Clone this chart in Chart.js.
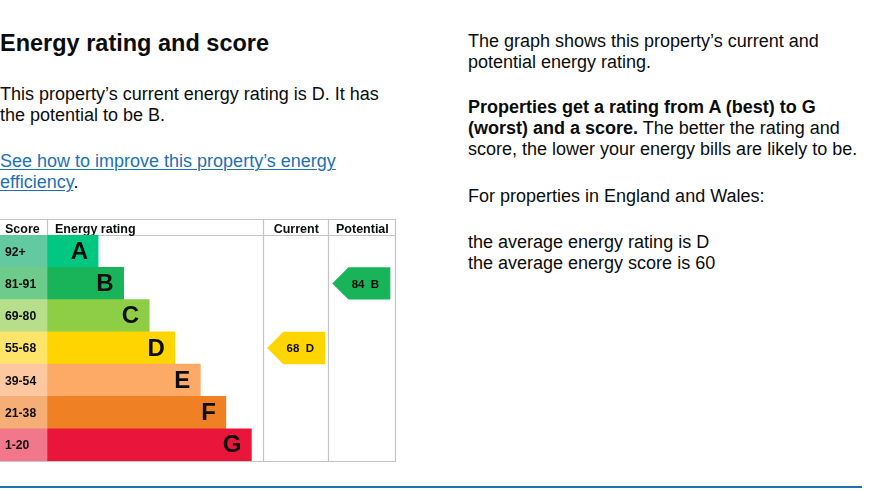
<!DOCTYPE html>
<html>
<head>
<meta charset="utf-8">
<script src="https://cdn.jsdelivr.net/npm/chart.js@4.4.1/dist/chart.umd.min.js"></script>
<style>
    body { margin: 0; background: #fff; color: #0b0c0c; font-family: "Liberation Sans", Arial, sans-serif; }
    .page { position: relative; width: 876px; height: 491px; overflow: hidden; }
    .txt { position: absolute; margin: 0; font-size: 18px; line-height: 21px; white-space: nowrap; }
    h2.txt { font-size: 23.5px; line-height: 28px; font-weight: bold; }
    a { color: #1d70b8; text-decoration: underline; text-decoration-thickness: 1px; text-underline-offset: 2px; }
    #epcChart { position: absolute; left: 0; top: 219px; }
    .rule { position: absolute; left: 0; top: 486px; width: 862px; height: 2px; background: #1d70b8; }
</style>
</head>
<body>
<div class="page">
    <h2 class="txt" style="left:0; top:29px;">Energy rating and score</h2>
    <p class="txt" style="left:0; top:84px;">This property’s current energy rating is D. It has<br>the potential to be B.</p>
    <p class="txt" style="left:0; top:151px;"><a href="#">See how to improve this property’s energy<br>efficiency</a>.</p>

    <p class="txt" style="left:468px; top:31px;">The graph shows this property’s current and<br>potential energy rating.</p>
    <p class="txt" style="left:468px; top:97px;"><b>Properties get a rating from A (best) to G<br>(worst) and a score.</b> The better the rating and<br>score, the lower your energy bills are likely to be.</p>
    <p class="txt" style="left:468px; top:186px;">For properties in England and Wales:</p>
    <p class="txt" style="left:468px; top:232px;">the average energy rating is D<br>the average energy score is 60</p>

    <canvas id="epcChart" width="397" height="243"></canvas>
    <div class="rule"></div>
</div>

<script>
// chart data
const ratings = ['A', 'B', 'C', 'D', 'E', 'F', 'G'];
const scoreRanges = ['92+', '81-91', '69-80', '55-68', '39-54', '21-38', '1-20'];
const barLengths = [2, 3, 4, 5, 6, 7, 8];
const currentScore = 68;
const currentRating = 'D';
const potentialScore = 84;
const potentialRating = 'B';

const barColors = ['#00c781', '#19b459', '#8dce46', '#ffd500', '#fcaa65', '#ef8023', '#e9153b'];
const scoreColors = ['#63c9a1', '#6ecb8c', '#b7df8b', '#ffe46a', '#fdc8a0', '#f4ae76', '#f2778b'];

// column layout on the x scale (1 unit ~ 25.5px)
const SCORE_COL = 1.84;
const CURRENT_COL = 10.32;
const POTENTIAL_COL = 12.87;
const X_MAX = 15.5;

const epcPlugin = {
    id: 'epcTable',
    beforeDatasetsDraw(chart) {
        const { ctx, chartArea, scales: { x } } = chart;
        const top = 0.5;
        const headBottom = chartArea.top + 0.5;
        const bottom = chartArea.bottom + 0.5;
        ctx.save();
        ctx.strokeStyle = '#c4c4c4';
        ctx.lineWidth = 1.2;
        ctx.beginPath();
        ctx.moveTo(0, top); ctx.lineTo(chartArea.right, top);
        ctx.moveTo(0, headBottom); ctx.lineTo(chartArea.right, headBottom);
        ctx.moveTo(0, bottom); ctx.lineTo(chartArea.right, bottom);
        const sx = Math.round(x.getPixelForValue(SCORE_COL)) + 0.5;
        ctx.moveTo(sx, top); ctx.lineTo(sx, headBottom);
        [CURRENT_COL, POTENTIAL_COL, X_MAX].forEach(v => {
            const px = Math.round(x.getPixelForValue(v)) - 0.5;
            ctx.moveTo(px, top); ctx.lineTo(px, bottom);
        });
        ctx.stroke();

        // header text
        ctx.fillStyle = '#0b0c0c';
        ctx.font = 'bold 12.5px "Liberation Sans", Arial, sans-serif';
        ctx.textBaseline = 'alphabetic';
        const hy = 13.5;
        ctx.textAlign = 'left';
        ctx.fillText('Score', 5, hy);
        ctx.fillText('Energy rating', sx + 7.5, hy);
        ctx.textAlign = 'center';
        ctx.fillText('Current', (x.getPixelForValue(CURRENT_COL) + x.getPixelForValue(POTENTIAL_COL)) / 2, hy);
        ctx.fillText('Potential', (x.getPixelForValue(POTENTIAL_COL) + x.getPixelForValue(X_MAX)) / 2, hy);
        ctx.restore();
    },
    afterDatasetsDraw(chart) {
        const { ctx, scales: { x, y } } = chart;
        const bars = chart.getDatasetMeta(1).data;
        ctx.save();
        ctx.fillStyle = '#0b0c0c';
        ctx.textBaseline = 'middle';

        ratings.forEach((r, i) => {
            const bar = bars[i];
            ctx.font = 'bold 24px "Liberation Sans", Arial, sans-serif';
            ctx.textAlign = 'right';
            ctx.fillText(r, bar.x - 10, bar.y + 1);
            ctx.font = 'bold 12.2px "Liberation Sans", Arial, sans-serif';
            ctx.textAlign = 'left';
            ctx.fillText(scoreRanges[i], 5, bar.y + 1);
        });

        const rowH = Math.abs(y.getPixelForValue(1) - y.getPixelForValue(0));
        function drawArrow(colStart, score, rating) {
            const i = ratings.indexOf(rating);
            const yc = y.getPixelForValue(i);
            const tip = x.getPixelForValue(colStart) + 3.5;
            const neck = tip + rowH / 2;
            const end = tip + 58;
            ctx.fillStyle = barColors[i];
            ctx.beginPath();
            ctx.moveTo(tip, yc);
            ctx.lineTo(neck, yc - rowH / 2);
            ctx.lineTo(end, yc - rowH / 2);
            ctx.lineTo(end, yc + rowH / 2);
            ctx.lineTo(neck, yc + rowH / 2);
            ctx.closePath();
            ctx.fill();
            ctx.fillStyle = '#0b0c0c';
            ctx.font = 'bold 11.5px "Liberation Sans", Arial, sans-serif';
            ctx.textAlign = 'center';
            ctx.fillText(score + '  ' + rating, (neck + end) / 2 - 4, yc + 1);
        }
        drawArrow(CURRENT_COL, currentScore, currentRating);
        drawArrow(POTENTIAL_COL, potentialScore, potentialRating);
        ctx.restore();
    }
};

new Chart(document.getElementById('epcChart'), {
    type: 'bar',
    data: {
        labels: ratings,
        datasets: [{
            label: 'Score',
            data: ratings.map(() => SCORE_COL),
            backgroundColor: scoreColors,
            borderWidth: 0,
            barPercentage: 1,
            categoryPercentage: 1
        }, {
            label: 'Energy rating',
            data: barLengths,
            backgroundColor: barColors,
            borderWidth: 0,
            barPercentage: 1,
            categoryPercentage: 1
        }]
    },
    options: {
        indexAxis: 'y',
        responsive: false,
        animation: false,
        devicePixelRatio: 1,
        layout: {
            padding: { top: 16, bottom: 1, left: 0, right: 1 }
        },
        plugins: {
            legend: { display: false },
            tooltip: { enabled: false }
        },
        scales: {
            x: { stacked: true, min: 0, max: X_MAX, display: false },
            y: { stacked: true, display: false }
        }
    },
    plugins: [epcPlugin]
});
</script>
</body>
</html>
